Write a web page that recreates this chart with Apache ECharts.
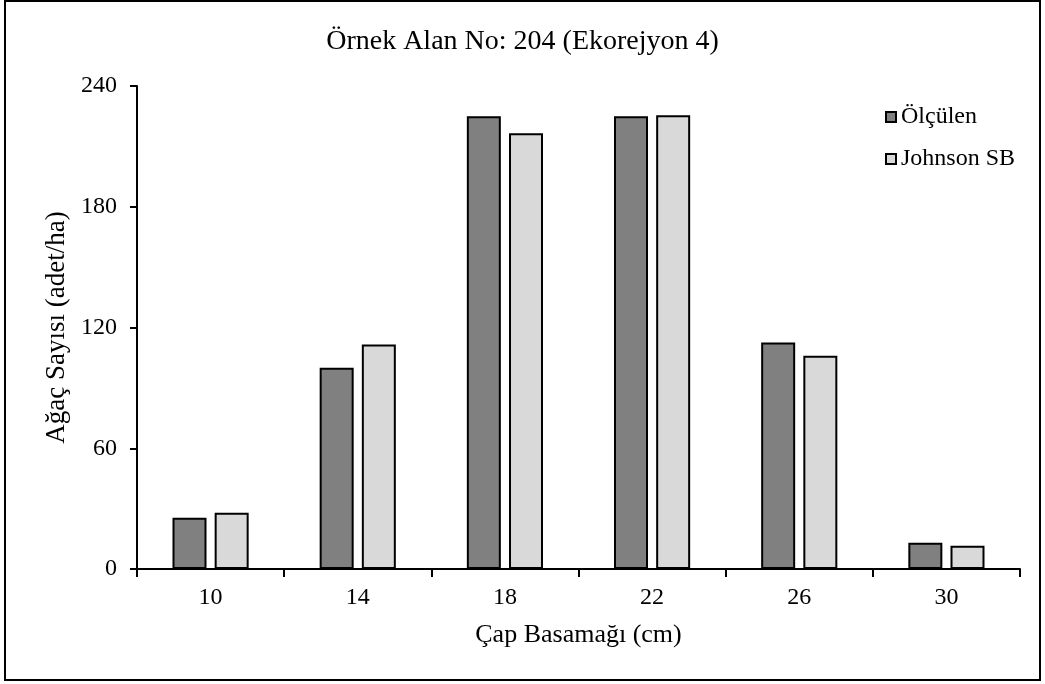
<!DOCTYPE html>
<html>
<head>
<meta charset="utf-8">
<script src="https://cdn.jsdelivr.net/npm/echarts@6/dist/echarts.min.js"></script>
<style>
html,body{margin:0;padding:0;background:#fff;}
#c{width:1045px;height:684px;}
</style>
</head>
<body>
<div id="c"></div>
<script>
const categories = ['10', '14', '18', '22', '26', '30'];
const olculen = [25.5, 100, 225, 225, 112.5, 13];
const johnsonSB = [28, 111.5, 216.5, 225.5, 106, 11.5];
const yTicks = [0, 60, 120, 180, 240];

const FONT = '"Liberation Serif", "Times New Roman", serif';
const chart = echarts.init(document.getElementById('c'), null, {renderer: 'canvas'});
chart.setOption({
  animation: false,
  backgroundColor: '#fff',
  textStyle: {fontFamily: FONT, color: '#000'},
  graphic: [{
    type: 'rect',
    shape: {x: 5, y: 1, width: 1035, height: 679},
    style: {fill: 'none', stroke: '#000', lineWidth: 2},
    z: 100
  }],
  title: {
    text: 'Örnek Alan No: 204 (Ekorejyon 4)',
    left: 'center',
    top: 23,
    textStyle: {fontFamily: FONT, fontSize: 28, fontWeight: 'normal', color: '#000'}
  },
  legend: {
    orient: 'vertical',
    left: 880,
    top: 100,
    itemWidth: 10,
    itemHeight: 10,
    itemGap: 18,
    icon: 'rect',
    textStyle: {fontFamily: FONT, fontSize: 24, color: '#000'},
    data: ['Ölçülen', 'Johnson SB']
  },
  grid: {left: 137, right: 25, top: 86, bottom: 115, containLabel: false},
  xAxis: {
    type: 'category',
    data: categories,
    name: 'Çap Basamağı (cm)',
    nameLocation: 'middle',
    nameGap: 53,
    nameTextStyle: {fontFamily: FONT, fontSize: 26, color: '#000'},
    axisLine: {lineStyle: {color: '#000', width: 2}},
    axisTick: {show: true, alignWithLabel: false, length: 8, lineStyle: {color: '#000', width: 2}},
    axisLabel: {fontFamily: FONT, fontSize: 24, color: '#000', margin: 17},
    splitLine: {show: false}
  },
  yAxis: {
    type: 'value',
    min: 0,
    max: 240,
    interval: 60,
    name: 'Ağaç Sayısı (adet/ha)',
    nameLocation: 'middle',
    nameGap: 42,
    nameRotate: 90,
    nameTextStyle: {fontFamily: FONT, fontSize: 27, color: '#000'},
    axisLine: {show: true, lineStyle: {color: '#000', width: 2}},
    axisTick: {show: true, length: 7, lineStyle: {color: '#000', width: 2}},
    axisLabel: {fontFamily: FONT, fontSize: 24, color: '#000', margin: 20,
      formatter: v => yTicks.includes(v) ? String(v) : ''},
    splitLine: {show: false}
  },
  series: [
    {
      name: 'Ölçülen',
      type: 'bar',
      data: olculen,
      barWidth: 34,
      barGap: '24%',
      itemStyle: {color: '#808080', borderColor: '#000', borderWidth: 2}
    },
    {
      name: 'Johnson SB',
      type: 'bar',
      data: johnsonSB,
      barWidth: 34,
      itemStyle: {color: '#d9d9d9', borderColor: '#000', borderWidth: 2}
    }
  ]
});
</script>
</body>
</html>
